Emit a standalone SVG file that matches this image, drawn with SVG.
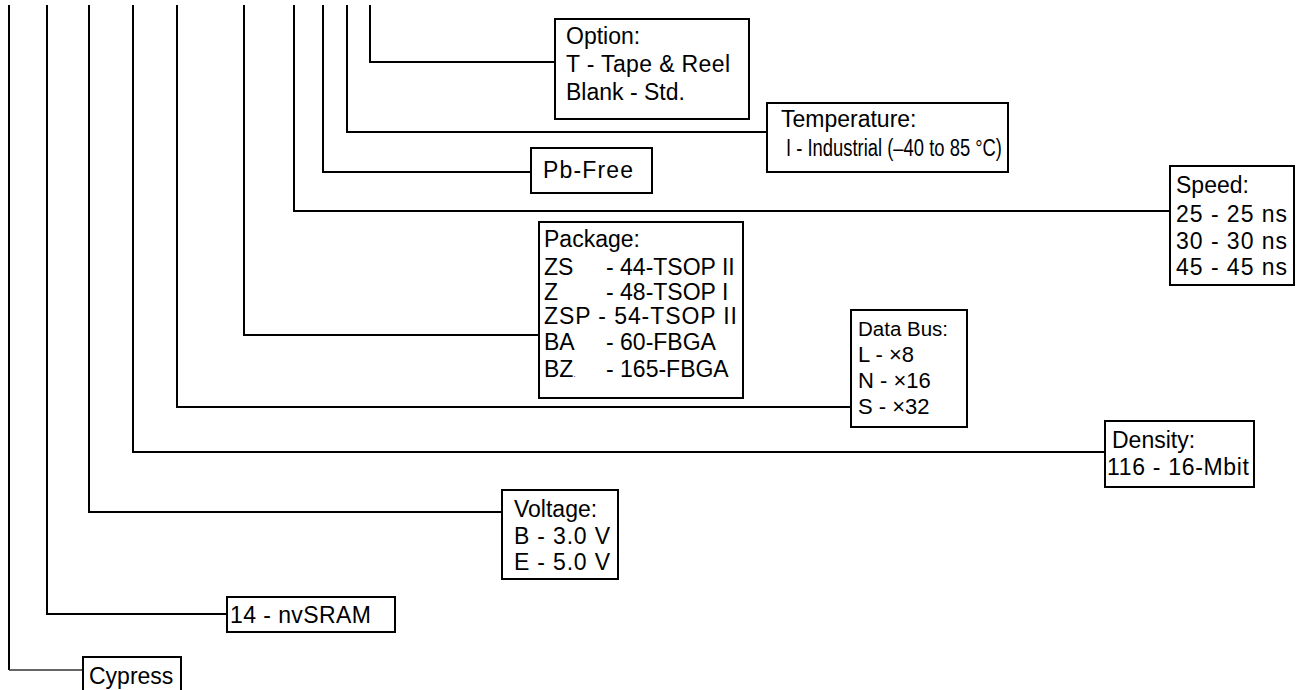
<svg xmlns="http://www.w3.org/2000/svg" width="1297" height="690" viewBox="0 0 1297 690">
<style>
.box{fill:#fff;stroke:#000;stroke-width:2}
.c{fill:none;stroke:#000;stroke-width:2}
text{font-family:"Liberation Sans",Arial,sans-serif;font-size:23px;fill:#000}
.n{font-size:20.5px}
.d{font-size:22px}
</style>
<rect width="1297" height="690" fill="#fff"/>
<g id="connectors">
<polyline class="c" points="9,5 9,670"/>
<line x1="9" y1="670" x2="83" y2="670" stroke="#333" stroke-width="1.3"/>
<polyline class="c" points="47,5 47,614 227,614"/>
<polyline class="c" points="89,5 89,512 502,512"/>
<polyline class="c" points="133,5 133,452 1105,452"/>
<polyline class="c" points="177,5 177,407 851,407"/>
<polyline class="c" points="244,5 244,335 539,335"/>
<polyline class="c" points="294,5 294,211 1170,211"/>
<polyline class="c" points="323,5 323,172 531,172"/>
<polyline class="c" points="347,5 347,132 767,132"/>
<polyline class="c" points="370,5 370,62 555,62"/>
</g>
<g id="option">
<rect class="box" x="555" y="19" width="194" height="100"/>
<text x="566" y="44">Option:</text>
<text x="566" y="72" textLength="164">T - Tape &amp; Reel</text>
<text x="566" y="100">Blank - Std.</text>
</g>
<g id="temperature">
<rect class="box" x="767" y="103" width="241" height="69"/>
<text x="781" y="127">Temperature:</text>
<text x="786" y="156" font-size="20.5" textLength="216" lengthAdjust="spacingAndGlyphs">I - Industrial (–40 to 85 °C)</text>
</g>
<g id="pbfree">
<rect class="box" x="531" y="148" width="121" height="45"/>
<text x="543" y="178" textLength="90">Pb-Free</text>
</g>
<g id="speed">
<rect class="box" x="1170" y="166" width="124" height="119"/>
<text x="1176" y="193">Speed:</text>
<text x="1176" y="222" textLength="111">25 - 25 ns</text>
<text x="1176" y="249" textLength="111">30 - 30 ns</text>
<text x="1176" y="275" textLength="111">45 - 45 ns</text>
</g>
<g id="package">
<rect class="box" x="539" y="222" width="204" height="176"/>
<text x="544" y="247">Package:</text>
<text x="544" y="275">ZS<tspan x="606">- 44-TSOP II</tspan></text>
<text x="544" y="300">Z<tspan x="606">- 48-TSOP I</tspan></text>
<text x="544" y="324" textLength="193">ZSP - 54-TSOP II</text>
<text x="544" y="350">BA<tspan x="606">- 60-FBGA</tspan></text>
<text x="544" y="377">BZ<tspan font-size="8">.</tspan><tspan x="606">- 165-FBGA</tspan></text>
</g>
<g id="databus">
<rect class="box" x="851" y="310" width="116" height="117"/>
<text class="n" x="858" y="336">Data Bus:</text>
<text class="d" x="858" y="362">L - ×8</text>
<text class="d" x="858" y="388">N - ×16</text>
<text class="d" x="858" y="414">S - ×32</text>
</g>
<g id="density">
<rect class="box" x="1105" y="421" width="149" height="66"/>
<text x="1112" y="448">Density:</text>
<text x="1107" y="475" textLength="142">116 - 16-Mbit</text>
</g>
<g id="voltage">
<rect class="box" x="502" y="490" width="116" height="89"/>
<text x="514" y="517">Voltage:</text>
<text x="514" y="544" textLength="96">B - 3.0 V</text>
<text x="514" y="570" textLength="96">E - 5.0 V</text>
</g>
<g id="nvsram">
<rect class="box" x="227" y="597" width="168" height="35"/>
<text x="230" y="623" textLength="141">14 - nvSRAM</text>
</g>
<g id="cypress">
<rect class="box" x="83" y="657" width="98" height="40"/>
<text x="89" y="684">Cypress</text>
</g>
</svg>
